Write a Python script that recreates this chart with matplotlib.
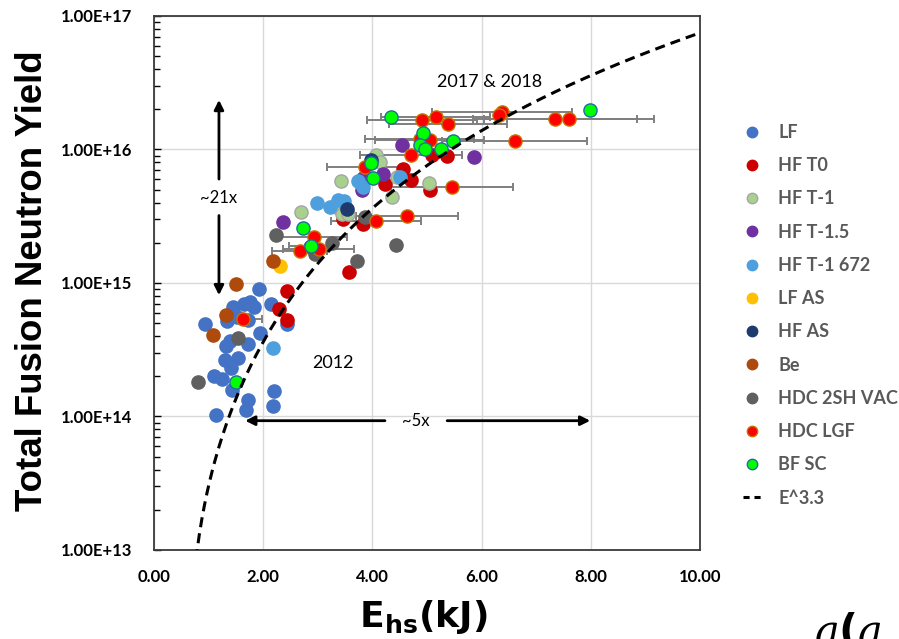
import numpy as np
import matplotlib.pyplot as plt
from matplotlib.lines import Line2D
from matplotlib.ticker import FuncFormatter, LogLocator, NullFormatter

# ---- data (E_hs in kJ, total neutron yield) ----
LF_E = [0.93, 1.92, 1.45, 1.65, 1.76, 1.83, 2.14, 1.34, 1.52, 1.72, 1.94, 1.72, 1.32,
        1.39, 1.30, 1.54, 1.41, 1.10, 1.25, 1.43, 1.72, 1.68, 1.14, 2.20, 2.18, 2.44]
LF_Y = [4.9e14, 9.0e14, 6.6e14, 7.0e14, 7.2e14, 6.6e14, 7.0e14, 5.2e14, 5.6e14, 5.3e14,
        4.2e14, 3.5e14, 3.4e14, 3.7e14, 2.65e14, 2.75e14, 2.3e14, 2.0e14, 1.9e14, 1.58e14,
        1.33e14, 1.12e14, 1.02e14, 1.56e14, 1.2e14, 4.9e14]

HF_T0_E = [2.44, 2.29, 2.44, 3.57, 3.83, 3.46, 4.23, 4.56, 4.71, 5.05, 5.09, 5.37]
HF_T0_Y = [8.7e14, 6.4e14, 5.3e14, 1.2e15, 2.75e15, 3.0e15, 5.5e15, 7.2e15, 5.9e15,
           5.0e15, 9.1e15, 8.9e15]

HF_T1_E = [3.42, 2.69, 4.07, 4.14, 4.45, 4.36, 5.04, 3.33, 3.44, 3.55]
HF_T1_Y = [5.8e15, 3.4e15, 9.1e15, 8.1e15, 6.2e15, 4.4e15, 5.6e15, 3.7e15, 3.3e15, 3.3e15]

HF_T15_E = [2.36, 4.54, 5.86, 4.19, 3.81, 3.83]
HF_T15_Y = [2.85e15, 1.08e16, 8.8e15, 6.6e15, 5.0e15, 6.1e15]

HF_T1_672_E = [2.99, 3.22, 3.37, 3.48, 3.74, 3.83, 4.51, 2.18]
HF_T1_672_Y = [3.98e15, 3.7e15, 4.2e15, 4.1e15, 5.8e15, 5.2e15, 6.2e15, 3.25e14]

LF_AS_E = [2.31]
LF_AS_Y = [1.35e15]

HF_AS_E = [3.53, 3.97]
HF_AS_Y = [3.6e15, 8.4e15]

BE_E = [1.50, 2.18, 1.32, 1.08]
BE_Y = [9.8e14, 1.47e15, 5.8e14, 4.1e14]

HDC_VAC_E = [2.23, 3.26, 3.72, 4.43, 3.86, 2.95, 2.86, 1.54, 0.81]
HDC_VAC_Y = [2.3e15, 2.0e15, 1.45e15, 1.93e15, 3.1e15, 1.65e15, 1.87e15, 3.9e14, 1.8e14]

HDC_LGF_E = [1.63, 2.67, 2.93, 3.02, 4.07, 4.63, 3.86, 4.71, 4.87, 5.05, 5.46, 6.61,
             4.91, 5.16, 5.38, 6.37, 6.32, 7.34, 7.60]
HDC_LGF_Y = [5.4e14, 1.75e15, 2.2e15, 1.8e15, 2.9e15, 3.2e15, 7.4e15, 9.1e15, 1.2e16,
             1.17e16, 5.2e15, 1.15e16, 1.66e16, 1.75e16, 1.55e16, 1.91e16, 1.81e16,
             1.69e16, 1.69e16]
HDC_LGF_XERR = [0.35, 0.5, 0.6, 0.65, 0.82, 0.93, 0.7, 0.94, 1.0, 1.0, 1.12, 1.33,
                1.0, 1.0, 1.08, 1.28, 0.0, 1.5, 1.55]

BF_SC_E = [4.34, 7.99, 4.93, 4.87, 4.96, 5.26, 5.48, 3.97, 4.01, 2.73, 2.88, 1.50]
BF_SC_Y = [1.75e16, 1.98e16, 1.34e16, 1.08e16, 1.0e16, 1.0e16, 1.15e16, 7.9e15,
           6.1e15, 2.6e15, 1.9e15, 1.8e14]
BF_SC_XERR = [0, 0, 0, 0, 0, 0, 0, 0, 0, 0, 0.4, 0]

# E^3.3 scaling curve (coefficient and small offset)
CURVE_EXP = 3.3
CURVE_COEF = 3.745e13
CURVE_OFFSET = 7.2e12

Y_TICKS = [1e13, 1e14, 1e15, 1e16, 1e17]
X_TICKS = [0, 2, 4, 6, 8, 10]

# label, E, Y, xerr, face, edge
SERIES = [
    ("LF", LF_E, LF_Y, None, "#4472C4", "#4472C4"),
    ("HF T0", HF_T0_E, HF_T0_Y, None, "#CC0000", "#CC0000"),
    ("HF T-1", HF_T1_E, HF_T1_Y, None, "#A9D18E", "#A5A5A5"),
    ("HF T-1.5", HF_T15_E, HF_T15_Y, None, "#7030A0", "#7030A0"),
    ("HF T-1 672", HF_T1_672_E, HF_T1_672_Y, None, "#4E9FDE", "#4E9FDE"),
    ("LF AS", LF_AS_E, LF_AS_Y, None, "#FFC000", "#FFC000"),
    ("HF AS", HF_AS_E, HF_AS_Y, None, "#1F3A6E", "#1F3A6E"),
    ("Be", BE_E, BE_Y, None, "#AE4A0C", "#AE4A0C"),
    ("HDC 2SH VAC", HDC_VAC_E, HDC_VAC_Y, None, "#606060", "#606060"),
    ("HDC LGF", HDC_LGF_E, HDC_LGF_Y, HDC_LGF_XERR, "#FF0000", "#C07800"),
    ("BF SC", BF_SC_E, BF_SC_Y, BF_SC_XERR, "#00FF00", "#1F6CA0"),
]

LABEL_FONT = "Lato"
plt.rcParams["mathtext.fontset"] = "custom"
plt.rcParams["mathtext.rm"] = "Liberation Sans Narrow:bold"
plt.rcParams["mathtext.it"] = "DejaVu Serif:italic"

fig = plt.figure(figsize=(8.99, 6.39), dpi=100)
ax = fig.add_axes([0.1713, 0.1393, 0.6073, 0.8357])
ax.set_yscale("log")
ax.set_xlim(0, 10)
ax.set_ylim(1e13, 1e17)

# grid
ax.grid(True, which="major", color="#D9D9D9", linewidth=1.0, zorder=0)
ax.set_axisbelow(True)

handles = []
for label, e, y, xerr, face, edge in SERIES:
    e = np.array(e)
    y = np.array(y)
    if xerr is not None:
        xerr = np.array(xerr)
        has = xerr > 0
        ax.errorbar(e[has], y[has], xerr=xerr[has], fmt="none", ecolor="#7F7F7F",
                    elinewidth=1.4, capsize=3, capthick=1.4, zorder=2)
    ax.plot(e, y, linestyle="none", marker="o", markersize=9.5,
            markerfacecolor=face, markeredgecolor=edge, markeredgewidth=1.0, zorder=3)
    handles.append(Line2D([], [], linestyle="none", marker="o", markersize=7.5,
                          markerfacecolor=face, markeredgecolor=edge, markeredgewidth=1.0))

# E^3.3 dashed line
e_curve = np.linspace(0.62, 10, 400)
y_curve = CURVE_COEF * e_curve ** CURVE_EXP - CURVE_OFFSET
keep = y_curve > 0
ax.plot(e_curve[keep], y_curve[keep], color="black", linewidth=2.2,
        dashes=(3.3, 2.0), zorder=4)
handles.append(Line2D([], [], color="black", linewidth=2.2, dashes=(2.0, 1.6)))
labels = [s[0] for s in SERIES] + ["E^3.3"]

# axes styling
ax.set_xticks(X_TICKS)
ax.xaxis.set_major_formatter(FuncFormatter(lambda v, p: f"{v:.2f}"))
ax.set_yticks(Y_TICKS)
ax.yaxis.set_major_formatter(FuncFormatter(lambda v, p: f"{v:.2E}"))
ax.yaxis.set_minor_locator(LogLocator(base=10, subs=np.arange(2, 10)))
ax.yaxis.set_minor_formatter(NullFormatter())
ax.tick_params(axis="x", which="both", length=0, pad=14)
ax.tick_params(axis="y", which="major", direction="in", length=5, width=1.0, pad=16)
ax.tick_params(axis="y", which="minor", direction="in", length=4, width=1.0)
for lab in ax.get_xticklabels() + ax.get_yticklabels():
    lab.set_fontfamily(LABEL_FONT)
    lab.set_fontweight("bold")
    lab.set_fontsize(12)
for sp in ax.spines.values():
    sp.set_color("#3A3A3A")
    sp.set_linewidth(1.3)

ax.set_ylabel("Total Fusion Neutron Yield", fontsize=26.4, fontweight="bold",
              fontfamily="Liberation Sans")
ax.yaxis.set_label_coords(-0.19, 0.505)
ax.set_xlabel(r"$\mathrm{E_{hs}(kJ)}$", fontsize=26)
ax.xaxis.set_label_coords(0.493, -0.09)

# annotations
txt = dict(fontfamily=LABEL_FONT, color="black", ha="center", va="center")
ax.text(6.15, 3.2e16, "2017 & 2018", fontsize=13, **txt)
ax.text(3.28, 2.5e14, "2012", fontsize=13, **txt)
ax.text(1.19, 4.3e15, "~21x", fontsize=12, **txt)
ax.text(4.80, 9.3e13, "~5x", fontsize=12, **txt)

arrow = dict(arrowstyle="-|>", color="black", lw=2, mutation_scale=14, shrinkA=0, shrinkB=0)
ax.annotate("", xy=(1.19, 2.35e16), xytext=(1.19, 6.0e15), arrowprops=arrow)
ax.annotate("", xy=(1.19, 8.1e14), xytext=(1.19, 3.2e15), arrowprops=arrow)
ax.annotate("", xy=(1.67, 9.3e13), xytext=(4.23, 9.3e13), arrowprops=arrow)
ax.annotate("", xy=(7.99, 9.3e13), xytext=(5.37, 9.3e13), arrowprops=arrow)

leg = ax.legend(handles, labels, loc="upper left", bbox_to_anchor=(0.8265, 0.806),
                bbox_transform=fig.transFigure, frameon=False, borderpad=0,
                borderaxespad=0, handlelength=1.0, handletextpad=0.95,
                labelspacing=0.9, labelcolor="#595959",
                prop=dict(family=LABEL_FONT, weight="bold", size=13))

# cut-off piece of the neighbouring slide content
fig.text(0.905, -0.009, r"$a(a\quad)$", fontsize=30, ha="left", va="baseline")

fig.savefig("out.png", dpi=100)
